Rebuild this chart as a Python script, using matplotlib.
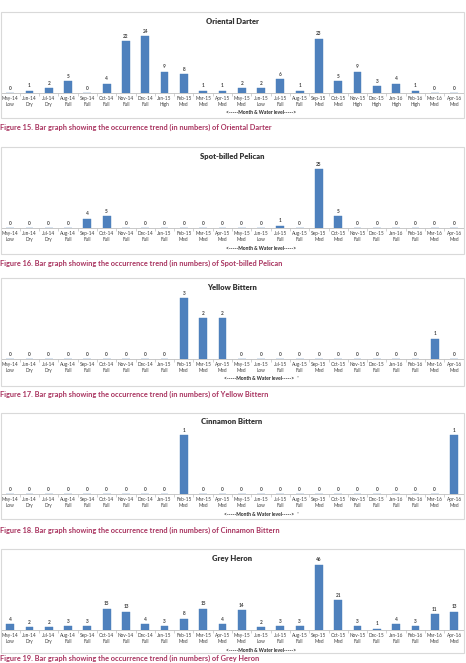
import matplotlib.pyplot as plt
from matplotlib.patches import Rectangle

months = ['May-14', 'Jun-14', 'Jul-14', 'Aug-14', 'Sep-14', 'Oct-14', 'Nov-14', 'Dec-14',
          'Jan-15', 'Feb-15', 'Mar-15', 'Apr-15', 'May-15', 'Jun-15', 'Jul-15', 'Aug-15',
          'Sep-15', 'Oct-15', 'Nov-15', 'Dec-15', 'Jan-16', 'Feb-16', 'Mar-16', 'Apr-16']
levels_darter = ['Low', 'Dry', 'Dry', 'Full', 'Full', 'Full', 'Full', 'Full', 'High', 'Med', 'Med', 'Med',
                 'Med', 'Low', 'Full', 'Full', 'Med', 'Med', 'High', 'High', 'High', 'High', 'Med', 'Med']
levels_other = ['Low', 'Dry', 'Dry', 'Full', 'Full', 'Full', 'Full', 'Full', 'Full', 'Med', 'Med', 'Med',
                'Med', 'Low', 'Full', 'Full', 'Med', 'Med', 'Full', 'Full', 'Full', 'Full', 'Med', 'Med']

oriental_darter = [0, 1, 2, 5, 0, 4, 22, 24, 9, 8, 1, 1, 2, 2, 6, 1, 23, 5, 9, 3, 4, 1, 0, 0]
spot_billed_pelican = [0, 0, 0, 0, 4, 5, 0, 0, 0, 0, 0, 0, 0, 0, 1, 0, 25, 5, 0, 0, 0, 0, 0, 0]
yellow_bittern = [0, 0, 0, 0, 0, 0, 0, 0, 0, 3, 2, 2, 0, 0, 0, 0, 0, 0, 0, 0, 0, 0, 1, 0]
cinnamon_bittern = [0, 0, 0, 0, 0, 0, 0, 0, 0, 1, 0, 0, 0, 0, 0, 0, 0, 0, 0, 0, 0, 0, 0, 1]
grey_heron = [4, 2, 2, 3, 3, 15, 13, 4, 3, 8, 15, 4, 14, 2, 3, 3, 46, 21, 3, 1, 4, 3, 11, 13]

species = ['Oriental Darter', 'Spot-billed Pelican', 'Yellow Bittern', 'Cinnamon Bittern', 'Grey Heron']
counts = [oriental_darter, spot_billed_pelican, yellow_bittern, cinnamon_bittern, grey_heron]
level_sets = [levels_darter, levels_other, levels_other, levels_other, levels_other]
y_max = [30, 30, 3.5, 1.2, 50]
fig_numbers = [15, 16, 17, 18, 19]

W, H = 466, 663
plt.rcParams['font.family'] = ['Lato', 'DejaVu Sans']

fig = plt.figure(figsize=(W / 100, H / 100), dpi=100)


def fx(x):
    return x / W


def fy(y):
    return 1 - y / H


box_top = [12, 147, 278, 413, 549]
baseline = [93, 228, 359, 494, 630]
box_bot = [118, 254, 386, 519, 653]
caption_y = [127, 263, 394, 530, 658.5]
plot_h = 71

for k in range(5):
    # chart border
    fig.patches.append(Rectangle((fx(1), fy(box_bot[k])), fx(463), box_bot[k] / H - box_top[k] / H,
                                 transform=fig.transFigure, fill=False, edgecolor='#D9D9D9', lw=0.8))

    ax = fig.add_axes([fx(0.5), fy(baseline[k]), fx(463.2), plot_h / H])
    x = list(range(len(months)))
    ax.bar(x, counts[k], width=0.4, color='#4F81BD', edgecolor='#4A7EBB', lw=0.3)
    ax.set_xlim(-0.5, len(months) - 0.5)
    ax.set_ylim(0, y_max[k])
    for i, v in enumerate(counts[k]):
        ax.annotate(str(v), (i, v), xytext=(0, 1.6), textcoords='offset points',
                    ha='center', va='bottom', fontsize=3.4, fontweight='bold', color='#404040')
    for s in ['top', 'right', 'left']:
        ax.spines[s].set_visible(False)
    ax.spines['bottom'].set_color('#BFBFBF')
    ax.spines['bottom'].set_linewidth(0.6)
    ax.set_yticks([])
    ax.set_xticks(x)
    ax.set_xticklabels([m + '\n' + l for m, l in zip(months, level_sets[k])],
                       fontsize=3.4, color='#404040', linespacing=1.35)
    ax.tick_params(axis='x', length=0, pad=2.2)
    ax.set_xticks([i + 0.5 for i in range(-1, len(months))], minor=True)
    ax.tick_params(axis='x', which='minor', length=2, width=0.5, color='#BFBFBF')
    ax.patch.set_alpha(0)

    fig.text(fx(232), fy(box_top[k] + 9), species[k], ha='center', va='center',
             fontsize=5.5, fontweight='heavy', color='#333333')
    tail = '   \'' if k in (2, 3) else ''
    fig.text(fx(261), fy(baseline[k] + 20), '<-----Month & Water level----->' + tail,
             ha='center', va='center', fontsize=3.5, fontweight='bold', color='#262626')
    fig.text(fx(0.5), fy(caption_y[k]),
             'Figure %d. Bar graph showing the occurrence trend (in numbers) of %s' % (fig_numbers[k], species[k]),
             ha='left', va='center', fontsize=5.3, fontweight='bold', color='#A8325E')

fig.savefig('out.png', dpi=100, facecolor='white')
